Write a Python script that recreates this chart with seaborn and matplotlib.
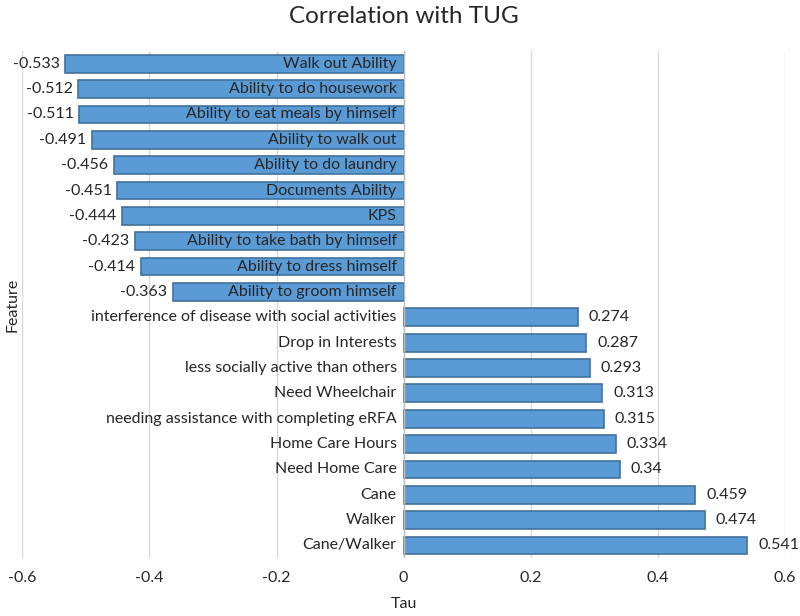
import matplotlib.pyplot as plt
import numpy as np
import seaborn as sns
import pandas as pd

# data, top to bottom
features = [
    "Walk out Ability",
    "Ability to do housework",
    "Ability to eat meals by himself",
    "Ability to walk out",
    "Ability to do laundry",
    "Documents Ability",
    "KPS",
    "Ability to take bath by himself",
    "Ability to dress himself",
    "Ability to groom himself",
    "interference of disease with social activities",
    "Drop in Interests",
    "less socially active than others",
    "Need Wheelchair",
    "needing assistance with completing eRFA",
    "Home Care Hours",
    "Need Home Care",
    "Cane",
    "Walker",
    "Cane/Walker",
]
tau = [-0.533, -0.512, -0.511, -0.491, -0.456, -0.451, -0.444, -0.423, -0.414, -0.363,
       0.274, 0.287, 0.293, 0.313, 0.315, 0.334, 0.34, 0.459, 0.474, 0.541]
tau_labels = ["-0.533", "-0.512", "-0.511", "-0.491", "-0.456", "-0.451", "-0.444", "-0.423",
              "-0.414", "-0.363", "0.274", "0.287", "0.293", "0.313", "0.315", "0.334", "0.34",
              "0.459", "0.474", "0.541"]
x_ticks = [-0.6, -0.4, -0.2, 0, 0.2, 0.4, 0.6]
x_ticklabels = ["-0.6", "-0.4", "-0.2", "0", "0.2", "0.4", "0.6"]

sns.set_style("white")
plt.rcParams['font.family'] = ['Lato', 'DejaVu Sans']

df = pd.DataFrame({"Feature": features, "Tau": tau})

fig = plt.figure(figsize=(8, 6.16), dpi=100)
ax = fig.add_axes([0.028, 0.094, 0.953, 0.823])

sns.barplot(data=df, y="Feature", x="Tau", orient="h", ax=ax, color="#5B9BD5",
            saturation=1, edgecolor="#41719C", linewidth=1.2, width=0.7, zorder=3)

ax.set_xlim(-0.6, 0.6)
ax.set_xticks(x_ticks)
ax.set_xticklabels(x_ticklabels, fontsize=11.5)
ax.tick_params(axis="x", length=0, pad=9)
ax.set_yticks([])
ax.set_ylim(len(features) - 0.5, -0.5)
ax.grid(axis="x", color="#D9D9D9", linewidth=1, zorder=0)
ax.set_axisbelow(True)
for s in ax.spines.values():
    s.set_visible(False)
ax.axvline(0, color="#BFBFBF", linewidth=1, zorder=4)

# category labels just left of zero, value labels at bar ends
for i, (name, v, lab) in enumerate(zip(features, tau, tau_labels)):
    ax.annotate(name, (0, i), xytext=(-5, 0), textcoords="offset points",
                ha="right", va="center", fontsize=11.5, zorder=5)
    if v < 0:
        ax.annotate(lab, (v, i), xytext=(-4, 0), textcoords="offset points",
                    ha="right", va="center", fontsize=11.5)
    else:
        ax.annotate(lab, (v, i), xytext=(8, 0), textcoords="offset points",
                    ha="left", va="center", fontsize=11.5)

ax.set_title("Correlation with TUG", fontsize=17.5, pad=20)
ax.set_xlabel("Tau", fontsize=11.5, labelpad=9)
ax.set_ylabel("Feature", fontsize=11.5, labelpad=2)

plt.savefig("out.png", dpi=100)
